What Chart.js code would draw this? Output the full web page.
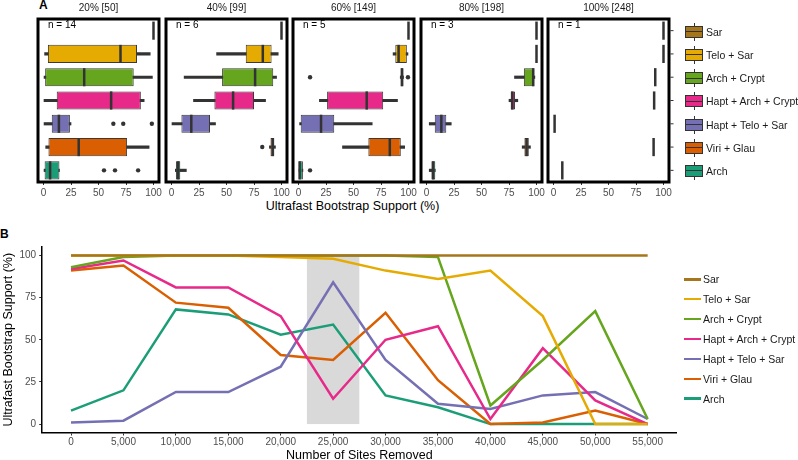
<!DOCTYPE html>
<html>
<head>
<meta charset="utf-8">
<script src="https://cdn.jsdelivr.net/npm/chart.js@4.4.1/dist/chart.umd.min.js"></script>
<style>
  body { margin: 0; width: 798px; height: 460px; background: #fff; position: relative; overflow: hidden;
         font-family: "Liberation Sans", Arial, sans-serif; }
  canvas { position: absolute; }
  .txt { position: absolute; white-space: nowrap; }
  .lab { position: absolute; white-space: nowrap; font-size: 10.5px; line-height: 12px; color: #1a1a1a; }
</style>
</head>
<body>
<div class="txt" style="left:39px;top:-2px;font-size:12px;font-weight:bold;">A</div>
<div class="txt" style="left:0px;top:227px;font-size:12px;font-weight:bold;">B</div>
<div class="txt" style="left:0;width:705px;top:199px;text-align:center;font-size:12.5px;line-height:15px;">Ultrafast Bootstrap Support (%)</div>

<canvas id="p0" width="141" height="201" style="left:28px;top:0"></canvas>
<canvas id="p1" width="141" height="201" style="left:156px;top:0"></canvas>
<canvas id="p2" width="141" height="201" style="left:283px;top:0"></canvas>
<canvas id="p3" width="141" height="201" style="left:411px;top:0"></canvas>
<canvas id="p4" width="141" height="201" style="left:538px;top:0"></canvas>
<div id="legendA"></div>

<canvas id="lines" width="690" height="237" style="left:0;top:225px"></canvas>
<div id="legendB"></div>

<script>
const categories = ['Sar', 'Telo + Sar', 'Arch + Crypt', 'Hapt + Arch + Crypt', 'Hapt + Telo + Sar', 'Viri + Glau', 'Arch'];
const seriesColors = ['#a6761d', '#e6ab02', '#66a61e', '#e7298a', '#7570b3', '#d95f02', '#1b9e77'];

// panel A: one strip per share of the sites, [min, q1, median, q3, max] per clade
const stripLabels = ['20% [50]', '40% [99]', '60% [149]', '80% [198]', '100% [248]'];
const nTrees = [14, 6, 5, 3, 1];
const boxTicks = [0, 25, 50, 75, 100];

const stats20 = [[100, 100, 100, 100, 100], [1, 4, 70, 85, 97], [0.5, 1.5, 37, 82, 99], [0, 12, 61.5, 88.5, 91.5],
                 [0.5, 7.5, 14, 24, 25], [2, 4.5, 32, 76, 96], [0.5, 1, 6, 14.5, 14.5]];
const out20 = [[], [], [], [], [63.5, 72.5, 98.5], [], [55, 65, 86]];

const stats40 = [[100, 100, 100, 100, 100], [41, 67.5, 83, 91, 97], [11.5, 46, 76, 92.5, 95.5], [20, 39, 56, 75, 85.5],
                 [0, 9, 18, 35, 40], [89, 90, 92, 93.5, 94.5], [3.5, 4, 6, 8, 13.5]];
const out40 = [[], [], [], [], [], [82.5], []];

const stats60 = [[100, 100, 100, 100, 100], [86, 88, 91, 98.5, 99.5], [92.5, 93, 94, 95.5, 95.5], [19, 26, 62, 77, 90],
                 [1, 2, 20.5, 32.5, 67], [40, 63.5, 83, 93, 96.5], [0, 0.5, 1, 4, 4]];
const out60 = [[], [], [10.5, 99.5], [], [], [], [10.5]];

const stats80 = [[100, 100, 100, 100, 100], [100, 100, 100, 100, 100], [80, 88.5, 97, 98, 98.5], [75, 76.5, 78, 80.5, 83],
                 [2.5, 7.5, 13.5, 18, 22.5], [87, 89, 91, 93, 94.5], [2.5, 4.5, 6, 8, 8]];
const out80 = [[], [], [], [], [], [], []];

const stats100 = [[100, 100, 100, 100, 100], [100, 100, 100, 100, 100], [92.5, 92.5, 92.5, 92.5, 92.5], [91.5, 91.5, 91.5, 91.5, 91.5],
                  [1, 1, 1, 1, 1], [91, 91, 91, 91, 91], [8, 8, 8, 8, 8]];
const out100 = [[], [], [], [], [], [], []];

// panel B
const sitesRemoved = [0, 5000, 10000, 15000, 20000, 25000, 30000, 35000, 40000, 45000, 50000, 55000];
const supSar =           [100, 100, 100, 100, 100, 100, 100, 100, 100, 100, 100, 100];
const supTeloSar =       [100, 100, 100, 100, 99, 98, 91, 86, 91, 64, 0, 0];
const supArchCrypt =     [93, 99, 100, 100, 100, 100, 100, 99, 11, 38, 67, 3];
const supHaptArchCrypt = [92, 97, 81, 81, 64, 15, 50, 58, 3, 45, 14, 0];
const supHaptTeloSar =   [1, 2, 19, 19, 34, 84, 38, 12, 9, 17, 19, 3];
const supViriGlau =      [91, 94, 72, 69, 41, 38, 66, 26, 0, 1, 8, 0];
const supArch =          [8, 20, 68, 65, 53, 59, 17, 10, 0, 0, 0, 0];
const supportTicks = [0, 25, 50, 75, 100];
const highlightRange = [22500, 27500];

Chart.defaults.font.family = '"Liberation Sans", Arial, sans-serif';
Chart.defaults.animation = false;
Chart.defaults.events = [];

const panelStats = [stats20, stats40, stats60, stats80, stats100];
const panelOut = [out20, out40, out60, out80, out100];

const frameBox = {
    id: 'frameBox',
    afterDraw(chart) {
        const { ctx, chartArea: a } = chart;
        ctx.save();
        ctx.lineWidth = 3;
        ctx.strokeStyle = '#000';
        ctx.strokeRect(a.left, a.top, a.right - a.left, a.bottom - a.top);
        ctx.restore();
    }
};

function boxExtras(stats, outliers, n, rightTicks) {
    return {
        id: 'boxExtras',
        afterDatasetsDraw(chart) {
            const ctx = chart.ctx;
            const x = chart.scales.x;
            const a = chart.chartArea;
            const boxes = chart.getDatasetMeta(1).data;
            ctx.save();
            ctx.strokeStyle = '#333';
            ctx.fillStyle = '#333';
            boxes.forEach((el, i) => {
                const half = el.height / 2;
                const mx = x.getPixelForValue(stats[i][2]);
                ctx.lineWidth = 2.5;
                ctx.beginPath();
                ctx.moveTo(mx, el.y - half);
                ctx.lineTo(mx, el.y + half);
                ctx.stroke();
                outliers[i].forEach(v => {
                    ctx.beginPath();
                    ctx.arc(x.getPixelForValue(v), el.y, 2.2, 0, Math.PI * 2);
                    ctx.fill();
                });
                if (rightTicks) {
                    ctx.lineWidth = 1;
                    ctx.beginPath();
                    ctx.moveTo(a.right + 1.5, el.y);
                    ctx.lineTo(a.right + 4.5, el.y);
                    ctx.stroke();
                }
            });
            ctx.fillStyle = '#000';
            ctx.font = '10px "Liberation Sans", Arial, sans-serif';
            ctx.textBaseline = 'middle';
            ctx.fillText('n = ' + n, a.left + 10, a.top + 6);
            ctx.restore();
        }
    };
}

panelStats.forEach((stats, p) => {
    new Chart(document.getElementById('p' + p), {
        type: 'bar',
        data: {
            labels: categories,
            datasets: [
                {
                    data: stats.map(s => [s[0], s[4]]),
                    backgroundColor: '#333',
                    borderWidth: 0,
                    barThickness: 2.5,
                    grouped: false,
                    order: 2
                },
                {
                    data: stats.map(s => [s[1], s[3]]),
                    backgroundColor: seriesColors,
                    borderColor: '#3a3a3a',
                    borderWidth: 1,
                    borderSkipped: false,
                    categoryPercentage: 0.78,
                    barPercentage: 1,
                    grouped: false,
                    order: 1
                }
            ]
        },
        options: {
            indexAxis: 'y',
            responsive: false,
            layout: { padding: { left: 10, right: 10, top: 0, bottom: 0 } },
            plugins: {
                legend: { display: false },
                tooltip: { enabled: false },
                title: {
                    display: true,
                    text: stripLabels[p],
                    color: '#1a1a1a',
                    font: { size: 10, weight: 'normal' },
                    padding: { top: 2, bottom: 5 }
                }
            },
            scales: {
                x: {
                    type: 'linear',
                    min: -5,
                    max: 105,
                    afterBuildTicks: s => { s.ticks = boxTicks.map(v => ({ value: v })); },
                    ticks: { color: '#4d4d4d', font: { size: 10 }, padding: 2, maxRotation: 0 },
                    grid: { drawOnChartArea: false, tickLength: 3, color: '#333' },
                    border: { display: false }
                },
                y: { display: false, offset: true }
            }
        },
        plugins: [boxExtras(stats, panelOut[p], nTrees[p], p === 4), frameBox]
    });
});

const legendA = document.getElementById('legendA');
categories.forEach((c, i) => {
    const cy = 31.7 + i * 23.2;
    legendA.innerHTML += `
        <div style="position:absolute;left:693.5px;top:${cy - 9}px;width:1px;height:18px;background:#333"></div>
        <div style="position:absolute;left:685px;top:${cy - 6}px;width:16px;height:10px;border:1px solid #333;background:${seriesColors[i]}">
            <div style="position:absolute;left:0;right:0;top:4.5px;height:1px;background:#333"></div>
        </div>
        <div class="lab" style="left:706px;top:${cy - 6}px">${c}</div>`;
});

const lineSeries = [supSar, supTeloSar, supArchCrypt, supHaptArchCrypt, supHaptTeloSar, supViriGlau, supArch];

const highlightBand = {
    id: 'highlightBand',
    beforeDatasetsDraw(chart) {
        const { ctx, scales: { x, y } } = chart;
        const x0 = x.getPixelForValue(highlightRange[0]);
        const x1 = x.getPixelForValue(highlightRange[1]);
        const y0 = y.getPixelForValue(100);
        const y1 = y.getPixelForValue(0);
        ctx.save();
        ctx.fillStyle = '#d9d9d9';
        ctx.fillRect(x0, y0, x1 - x0, y1 - y0);
        ctx.restore();
    }
};

new Chart(document.getElementById('lines'), {
    type: 'line',
    data: {
        datasets: lineSeries.map((vals, i) => ({
            label: categories[i],
            data: sitesRemoved.map((s, k) => ({ x: s, y: vals[k] })),
            borderColor: seriesColors[i],
            borderWidth: 2.5,
            pointRadius: 0,
            tension: 0,
            fill: false
        }))
    },
    options: {
        responsive: false,
        layout: { padding: { left: 0, right: 13.5, top: 22, bottom: 0 } },
        plugins: { legend: { display: false }, tooltip: { enabled: false } },
        scales: {
            x: {
                type: 'linear',
                min: -2750,
                max: 57750,
                afterBuildTicks: s => { s.ticks = sitesRemoved.map(v => ({ value: v })); },
                ticks: {
                    color: '#4d4d4d', font: { size: 10 }, padding: 1, maxRotation: 0,
                    callback: v => v.toLocaleString('en-US')
                },
                grid: { drawOnChartArea: false, tickLength: 3, color: '#333' },
                border: { color: '#000', width: 1.5 },
                title: { display: true, text: 'Number of Sites Removed', color: '#000', font: { size: 12.5, lineHeight: 1 }, padding: { top: 0, bottom: 0 } }
            },
            y: {
                min: -5,
                max: 105,
                afterBuildTicks: s => { s.ticks = supportTicks.map(v => ({ value: v })); },
                ticks: { color: '#4d4d4d', font: { size: 10 }, padding: 3 },
                grid: { drawOnChartArea: false, tickLength: 3, color: '#333' },
                border: { color: '#000', width: 1.5 },
                title: { display: true, text: 'Ultrafast Bootstrap Support (%)', color: '#000', font: { size: 12.5, lineHeight: 1 }, padding: { top: 2, bottom: 2 } }
            }
        }
    },
    plugins: [highlightBand]
});

const legendB = document.getElementById('legendB');
categories.forEach((c, i) => {
    const cy = 279.3 + i * 19.9;
    legendB.innerHTML += `
        <div style="position:absolute;left:684px;top:${cy - 1.25}px;width:17px;height:2.5px;background:${seriesColors[i]}"></div>
        <div class="lab" style="left:703px;top:${cy - 6}px">${c}</div>`;
});
</script>
</body>
</html>
